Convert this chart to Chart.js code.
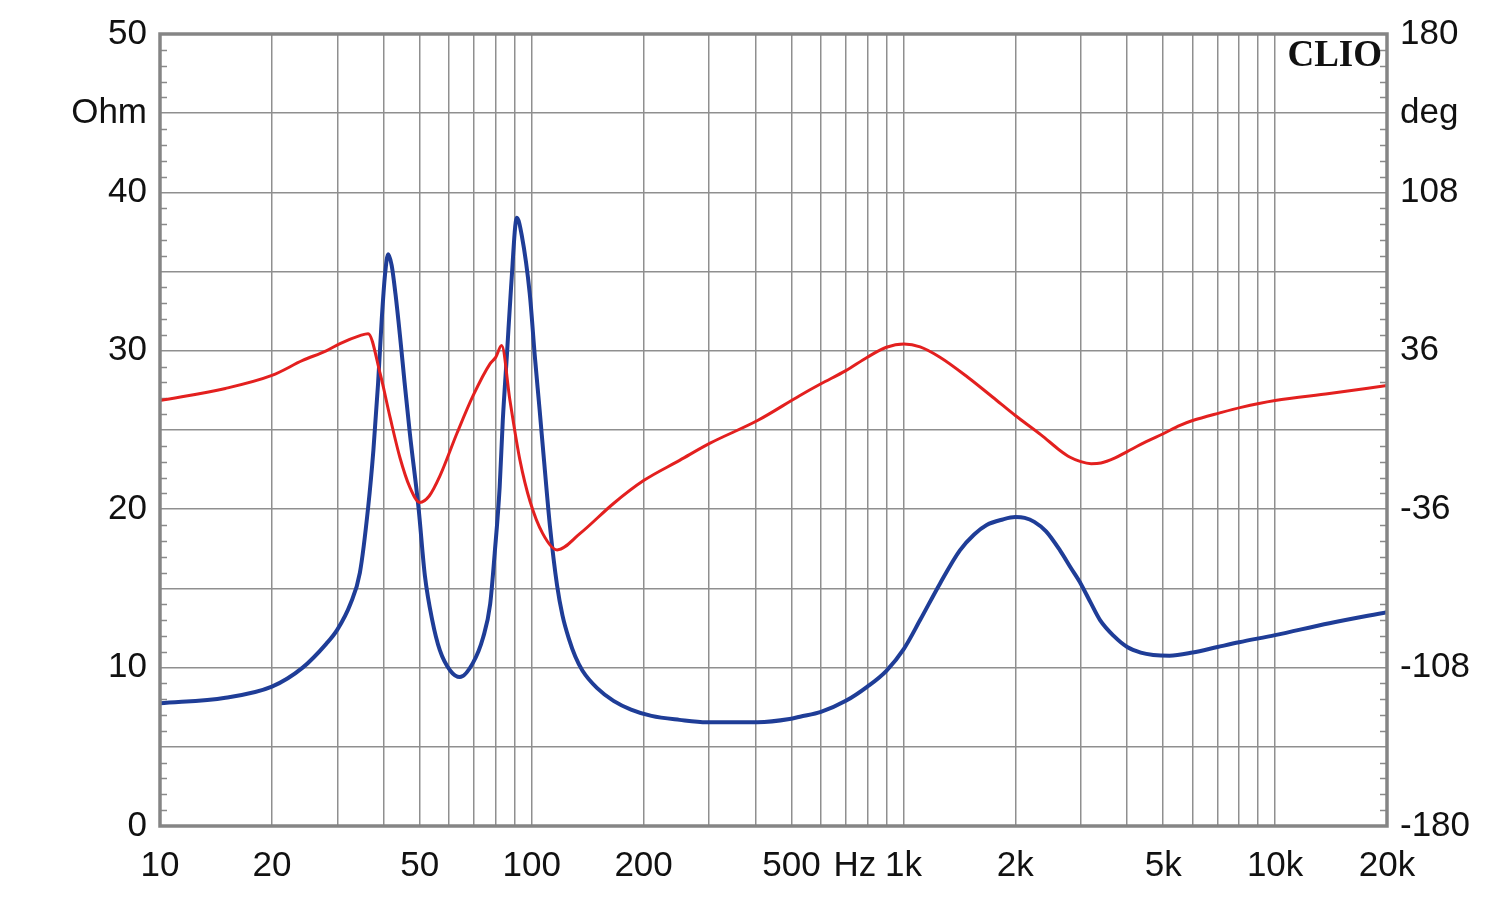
<!DOCTYPE html>
<html>
<head>
<meta charset="utf-8">
<script src="https://cdn.jsdelivr.net/npm/chart.js@4.4.1/dist/chart.umd.min.js"></script>
<style>
  html, body { margin: 0; padding: 0; background: #ffffff; }
  #wrap { width: 1500px; height: 899px; }
</style>
</head>
<body>
<div id="wrap"><canvas id="c" width="1500" height="899"></canvas></div>
<script>
// ---- data ----
const impFreq = [10,15,20,24.2,28,30,32.5,34.5,36.3,37.5,38.6,39.5,40.3,41.1,42,43,44.2,45.5,47,49.6,51.6,54,56.6,60.4,64.1,69.5,74,77.3,79.5,82,83.6,85.8,88,91.2,94,98.8,102,105,108,112,117,121,126,131,137,150,166,185,210,250,296,405,494,527,600,700,800,900,1004,1109,1254,1419,1550,1675,1850,2000,2120,2250,2420,2638,2820,3000,3190,3381,3680,4000,4350,4700,5200,6000,7000,8000,10000,14000,20000];
const impOhm  = [7.75,8.1,8.8,10.0,11.5,12.4,14,16,20.1,23.7,27.9,32,34.8,36.1,35.4,33.6,31,28,24.8,20.1,15.8,13.0,11.1,9.8,9.4,10.3,11.9,14.0,17.2,21.4,25.6,29.8,34,38.4,37.3,33.6,29.6,26.3,23.0,18.9,15.2,13.3,11.8,10.7,9.8,8.7,7.9,7.35,6.95,6.7,6.55,6.55,6.75,6.9,7.2,7.9,8.8,9.8,11.2,13.0,15.3,17.4,18.4,19.0,19.35,19.5,19.45,19.2,18.6,17.4,16.3,15.3,14.1,13.0,12.0,11.3,10.95,10.8,10.75,10.95,11.3,11.6,12.05,12.8,13.5];

const phFreq = [10,15,20,24.2,28,30.5,34.5,36.3,39.1,41.6,44.2,47,50,53,56.6,62.9,69.5,77.3,80,83,87.4,93,99,107,117,135,166,200,250,301,405,527,600,700,800,900,1004,1109,1254,1490,1740,2000,2350,2638,2800,3000,3200,3400,3700,4000,4500,5000,5548,6000,7100,8100,10000,14000,20000];
const phDeg  = [13.4,18.9,24.8,31.6,36,39.3,42.9,43.8,25.7,5.7,-12.5,-26,-32.9,-30,-21,-1.6,15.5,30.2,33,38.4,13.4,-13.8,-32.5,-47,-54.5,-47,-33.4,-23,-13.8,-6.1,4.3,15.7,21.0,27.0,33.1,37.6,39.1,37.8,33.1,24.0,14.9,6.6,-2.3,-9.3,-12.3,-14.4,-15.3,-15.0,-12.8,-9.8,-5.3,-1.7,2.1,4.3,7.8,10.3,13.4,16.6,20.2];

const xLabelValues = [10,20,50,100,200,500,1000,2000,5000,10000,20000];
const xLabelTexts  = ['10','20','50','100','200','500','1k','2k','5k','10k','20k'];
const hzPos = 740;
const leftLabels  = [0,10,20,30,40,50];
const rightLabels = [-180,-108,-36,36,108,180];
const leftUnit = 'Ohm', rightUnit = 'deg', leftUnitAt = 45, rightUnitAt = 144;

// ---- build ----
const impData = impFreq.map((f,i)=>({x:f,y:impOhm[i]}));
const phData  = phFreq.map((f,i)=>({x:f,y:phDeg[i]}));

const GRID = '#8f8f8f';
const FONT = {family: '"Liberation Sans", Arial, sans-serif', size: 35};

function xTickValues(){
  const arr = [];
  for (let d = 10; d <= 10000; d *= 10) for (let m = 1; m <= 9; m++) if (m*d <= 20000) arr.push(m*d);
  arr.push(hzPos);
  return arr.sort((a,b)=>a-b);
}

const framePlugin = {
  id: 'frame',
  beforeDatasetsDraw(chart){
    const {ctx, chartArea:a, scales} = chart;
    const y = scales.y;
    ctx.save();
    ctx.strokeStyle = '#8a8a8a';
    ctx.lineWidth = 1.5;
    for (let v = 1; v < 50; v++) {
      if (v % 5 === 0) continue;
      const py = Math.round(y.getPixelForValue(v)) + 0.5;
      ctx.beginPath();
      ctx.moveTo(a.left, py); ctx.lineTo(a.left + 7, py);
      ctx.moveTo(a.right, py); ctx.lineTo(a.right - 7, py);
      ctx.stroke();
    }
    ctx.restore();
  },
  afterDatasetsDraw(chart){
    const {ctx, chartArea:a} = chart;
    ctx.save();
    ctx.strokeStyle = '#858585';
    ctx.lineWidth = 3.5;
    ctx.strokeRect(a.left, a.top, a.right - a.left, a.bottom - a.top);
    ctx.fillStyle = '#111111';
    ctx.font = 'bold 37px "Liberation Serif", "DejaVu Serif", serif';
    ctx.textAlign = 'right';
    ctx.textBaseline = 'alphabetic';
    ctx.fillText('CLIO', a.right - 5, a.top + 32);
    ctx.restore();
  }
};

new Chart(document.getElementById('c'), {
  type: 'line',
  data: {
    datasets: [
      { label: 'Phase', data: phData, yAxisID: 'y2', borderColor: '#e3201f', borderWidth: 3,
        pointRadius: 0, cubicInterpolationMode: 'monotone', order: 0, fill: false },
      { label: 'Impedance', data: impData, yAxisID: 'y', borderColor: '#1f3d97', borderWidth: 4,
        pointRadius: 0, cubicInterpolationMode: 'monotone', order: 1, fill: false }
    ]
  },
  options: {
    responsive: false,
    animation: false,
    events: [],
    layout: { padding: { top: 33, left: 0, right: 0, bottom: 0 } },
    plugins: { legend: { display: false }, tooltip: { enabled: false } },
    scales: {
      x: {
        type: 'logarithmic', min: 10, max: 20000, position: 'bottom',
        afterBuildTicks: s => { s.ticks = xTickValues().map(v => ({value: v})); },
        afterFit: s => { s.height = 73; },
        border: { display: false },
        grid: { drawTicks: false, lineWidth: 1.5,
                color: c => (c.tick && c.tick.value === hzPos) ? 'rgba(0,0,0,0)' : GRID },
        ticks: {
          autoSkip: false, maxRotation: 0, minRotation: 0, padding: 19,
          color: '#111111', font: FONT,
          callback: v => {
            if (v === hzPos) return 'Hz';
            const i = xLabelValues.indexOf(v);
            return i >= 0 ? xLabelTexts[i] : '';
          }
        }
      },
      y: {
        type: 'linear', position: 'left', min: 0, max: 50,
        afterFit: s => { s.width = 160; },
        border: { display: false },
        grid: { drawTicks: false, lineWidth: 1.5, color: GRID },
        ticks: {
          stepSize: 5, autoSkip: false, padding: 13, color: '#111111', font: FONT,
          callback: v => v === leftUnitAt ? leftUnit : (leftLabels.includes(v) ? String(v) : '')
        }
      },
      y2: {
        type: 'linear', position: 'right', min: -180, max: 180,
        afterFit: s => { s.width = 113; },
        border: { display: false },
        grid: { drawOnChartArea: false, drawTicks: false },
        ticks: {
          stepSize: 36, autoSkip: false, padding: 13, color: '#111111', font: FONT,
          callback: v => v === rightUnitAt ? rightUnit : (rightLabels.includes(v) ? String(v) : '')
        }
      }
    }
  },
  plugins: [framePlugin]
});
</script>
</body>
</html>
